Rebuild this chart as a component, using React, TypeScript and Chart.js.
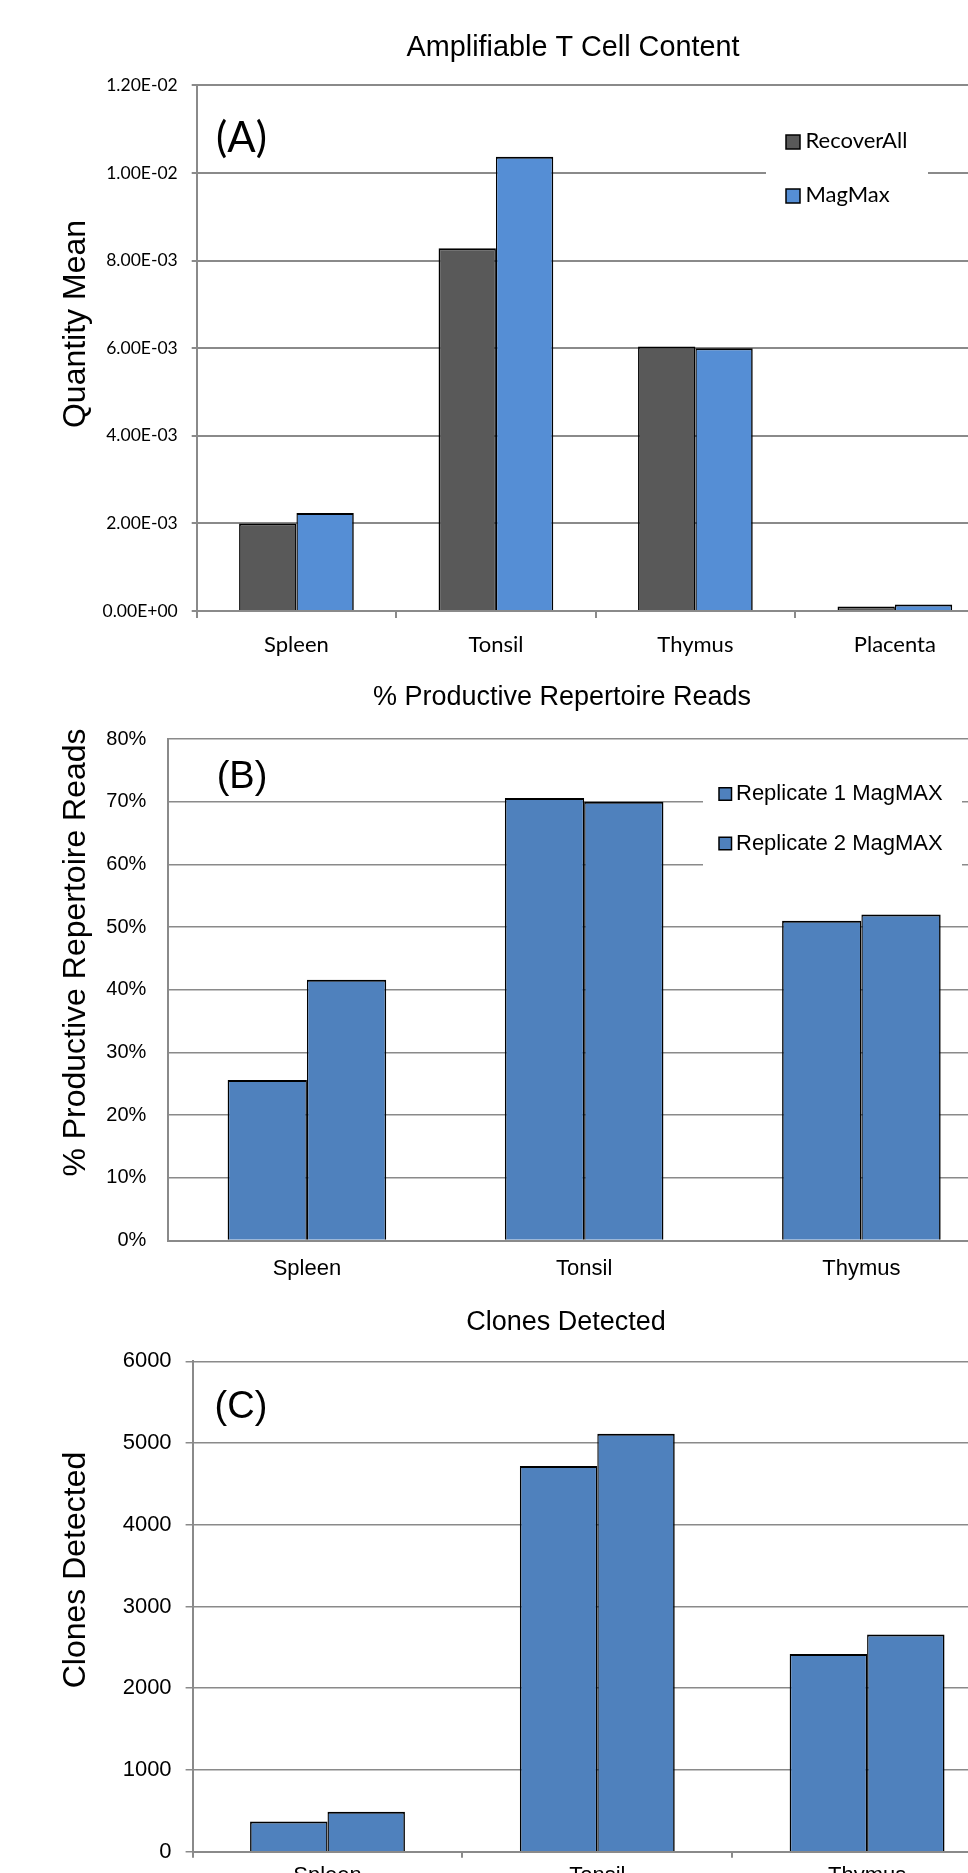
import React, { useEffect, useRef } from 'react';
import { Chart, registerables } from 'chart.js';

Chart.register(...registerables);

// ---------- Data ----------
const A_CATEGORIES = ['Spleen', 'Tonsil', 'Thymus', 'Placenta'];
const A_RECOVERALL = [0.002, 0.00828, 0.00604, 0.0001];
const A_MAGMAX = [0.00224, 0.01037, 0.006, 0.00015];
const A_TICK_VALUES = [0, 0.002, 0.004, 0.006, 0.008, 0.01, 0.012];
const A_TICK_LABELS = ['0.00E+00', '2.00E-03', '4.00E-03', '6.00E-03', '8.00E-03', '1.00E-02', '1.20E-02'];

const B_CATEGORIES = ['Spleen', 'Tonsil', 'Thymus'];
const B_REP1 = [25.6, 70.6, 51.0];
const B_REP2 = [41.6, 70.0, 52.0];
const B_TICK_VALUES = [0, 10, 20, 30, 40, 50, 60, 70, 80];
const B_TICK_LABELS = ['0%', '10%', '20%', '30%', '40%', '50%', '60%', '70%', '80%'];

const C_CATEGORIES = ['Spleen', 'Tonsil', 'Thymus'];
const C_REP1 = [370, 4720, 2420];
const C_REP2 = [488, 5115, 2658];
const C_TICK_VALUES = [0, 1000, 2000, 3000, 4000, 5000, 6000];
const C_TICK_LABELS = ['0', '1000', '2000', '3000', '4000', '5000', '6000'];

// ---------- Styles ----------
const ARIAL = '"Liberation Sans", Arial, sans-serif';
const CALIBRI = 'Lato, "Liberation Sans", sans-serif';
const GRID = '#8a8a8a';
const DARK = '#595959';
const BLUE_A = '#558ed5';
const BLUE = '#4f81bd';
const CANVAS_W = 1010;

const decoPlugin = {
  id: 'panelDeco',
  afterDraw(chart: any, _args: any, opts: any) {
    const ctx = chart.ctx;
    ctx.save();
    ctx.fillStyle = '#000';
    ctx.textAlign = 'center';
    ctx.textBaseline = 'middle';
    if (opts.legend) {
      const L = opts.legend;
      ctx.fillStyle = '#fff';
      ctx.fillRect(L.bgX, L.bgY, L.bgW, L.bgH);
      chart.data.datasets.forEach((ds: any, i: number) => {
        const cy = L.y + i * L.dy;
        ctx.fillStyle = ds.backgroundColor;
        ctx.fillRect(L.x, cy - L.box / 2, L.box, L.box);
        ctx.strokeStyle = '#000';
        ctx.lineWidth = 1.5;
        ctx.strokeRect(L.x, cy - L.box / 2, L.box, L.box);
        ctx.fillStyle = '#000';
        ctx.font = L.font;
        ctx.textAlign = 'left';
        ctx.fillText(ds.label, L.textX, cy + L.textDy);
      });
      ctx.textAlign = 'center';
    }
    if (opts.title) {
      ctx.fillStyle = '#000';
      ctx.font = opts.titleFont;
      ctx.fillText(opts.title, opts.titleX, opts.titleY);
    }
    if (opts.yTitle) {
      ctx.save();
      ctx.translate(opts.yTitleX, opts.yTitleY);
      ctx.rotate(-Math.PI / 2);
      ctx.font = opts.yTitleFont;
      ctx.fillStyle = '#000';
      ctx.fillText(opts.yTitle, 0, 0);
      ctx.restore();
    }
    if (opts.tag) {
      ctx.font = opts.tagFont;
      ctx.fillStyle = '#000';
      ctx.fillText(opts.tag, opts.tagX, opts.tagY);
    }
    ctx.restore();
  },
};

type PanelSpec = {
  top: number;
  height: number;
  categories: string[];
  series: { label: string; data: number[]; color: string }[];
  tickValues: number[];
  tickLabels: string[];
  yMax: number;
  left: number;
  right: number;
  areaTop: number;
  areaBottom: number;
  catPct: number;
  yTickFont: any;
  yTickPad: number;
  yTickLen: number;
  xTickFont: any;
  xTickPad: number;
  xTickLen: number;
  gridWidth: number;
  deco: any;
};

function buildConfig(p: PanelSpec): any {
  return {
    type: 'bar',
    data: {
      labels: p.categories,
      datasets: p.series.map((s, i) => ({
        label: s.label,
        data: s.data,
        backgroundColor: s.color,
        borderColor: '#000',
        borderWidth: i === 0
          ? { top: 2, left: 1.6, right: 1.4, bottom: 0 }
          : { top: 2, left: 1.4, right: 1.6, bottom: 0 },
        barPercentage: 1,
        categoryPercentage: p.catPct,
      })),
    },
    options: {
      responsive: false,
      animation: false,
      devicePixelRatio: 1,
      layout: { padding: { top: p.areaTop, left: 0, right: CANVAS_W - p.right, bottom: 0 } },
      plugins: {
        legend: { display: false },
        title: { display: false },
        tooltip: { enabled: false },
        panelDeco: p.deco,
      },
      scales: {
        x: {
          afterFit: (s: any) => { s.height = p.height - p.areaBottom; },
          ticks: { font: p.xTickFont, color: '#000', padding: p.xTickPad, maxRotation: 0, autoSkip: false },
          grid: {
            display: p.xTickLen > 0,
            drawOnChartArea: false,
            drawTicks: p.xTickLen > 0,
            tickLength: p.xTickLen,
            color: GRID,
            lineWidth: 2,
            offset: true,
          },
          border: { display: true, color: GRID, width: 2 },
        },
        y: {
          min: 0,
          max: p.yMax,
          afterBuildTicks: (s: any) => { s.ticks = p.tickValues.map((v) => ({ value: v })); },
          afterFit: (s: any) => { s.width = p.left; },
          ticks: {
            callback: (_v: any, i: number) => p.tickLabels[i],
            font: p.yTickFont,
            color: '#000',
            padding: p.yTickPad,
          },
          grid: {
            color: GRID,
            lineWidth: p.gridWidth,
            drawTicks: p.yTickLen > 0,
            tickLength: p.yTickLen,
          },
          border: { display: true, color: GRID, width: 2 },
        },
      },
    },
    plugins: [decoPlugin],
  };
}

const PANEL_A: PanelSpec = {
  top: 0,
  height: 660,
  categories: A_CATEGORIES,
  series: [
    { label: 'RecoverAll', data: A_RECOVERALL, color: DARK },
    { label: 'MagMax', data: A_MAGMAX, color: BLUE_A },
  ],
  tickValues: A_TICK_VALUES,
  tickLabels: A_TICK_LABELS,
  yMax: 0.012,
  left: 196.7,
  right: 994.6,
  areaTop: 85.4,
  areaBottom: 611,
  catPct: 0.575,
  yTickFont: { family: CALIBRI, size: 17.5 },
  yTickPad: 14,
  yTickLen: 5,
  xTickFont: { family: CALIBRI, size: 22 },
  xTickPad: 14,
  xTickLen: 7,
  gridWidth: 2,
  deco: {
    title: 'Amplifiable T Cell Content',
    titleFont: `28.8px ${ARIAL}`,
    titleX: 573,
    titleY: 48,
    yTitle: 'Quantity Mean',
    yTitleFont: `32px ${ARIAL}`,
    yTitleX: 76.5,
    yTitleY: 324,
    tag: '(A)',
    tagFont: `42px ${CALIBRI}`,
    tagX: 241.5,
    tagY: 138,
    legend: {
      bgX: 766, bgY: 112, bgW: 162, bgH: 106,
      x: 786, y: 142, dy: 54, box: 14,
      textX: 805.5, textDy: -1.5,
      font: `22px ${CALIBRI}`,
    },
  },
};

const PANEL_B: PanelSpec = {
  top: 660,
  height: 630,
  categories: B_CATEGORIES,
  series: [
    { label: 'Replicate 1 MagMAX', data: B_REP1, color: BLUE },
    { label: 'Replicate 2 MagMAX', data: B_REP2, color: BLUE },
  ],
  tickValues: B_TICK_VALUES,
  tickLabels: B_TICK_LABELS,
  yMax: 80,
  left: 168.3,
  right: 1000,
  areaTop: 79,
  areaBottom: 580.5,
  catPct: 0.572,
  yTickFont: { family: ARIAL, size: 20 },
  yTickPad: 22,
  yTickLen: 0,
  xTickFont: { family: ARIAL, size: 22 },
  xTickPad: 15,
  xTickLen: 0,
  gridWidth: 1.5,
  deco: {
    title: '% Productive Repertoire Reads',
    titleFont: `27px ${ARIAL}`,
    titleX: 562,
    titleY: 37.6,
    yTitle: '% Productive Repertoire Reads',
    yTitleFont: `32px ${ARIAL}`,
    yTitleX: 76.5,
    yTitleY: 292.5,
    tag: '(B)',
    tagFont: `38px ${ARIAL}`,
    tagX: 242,
    tagY: 118,
    legend: {
      bgX: 703, bgY: 110, bgW: 259, bgH: 100,
      x: 719, y: 134, dy: 49.5, box: 12.5,
      textX: 736, textDy: 0,
      font: `22px ${ARIAL}`,
    },
  },
};

const PANEL_C: PanelSpec = {
  top: 1290,
  height: 650,
  categories: C_CATEGORIES,
  series: [
    { label: 'Replicate 1 MagMAX', data: C_REP1, color: BLUE },
    { label: 'Replicate 2 MagMAX', data: C_REP2, color: BLUE },
  ],
  tickValues: C_TICK_VALUES,
  tickLabels: C_TICK_LABELS,
  yMax: 6000,
  left: 192.6,
  right: 1002,
  areaTop: 71.3,
  areaBottom: 561.7,
  catPct: 0.574,
  yTickFont: { family: ARIAL, size: 22 },
  yTickPad: 14,
  yTickLen: 7,
  xTickFont: { family: ARIAL, size: 22 },
  xTickPad: 5,
  xTickLen: 6,
  gridWidth: 1.5,
  deco: {
    title: 'Clones Detected',
    titleFont: `27px ${ARIAL}`,
    titleX: 566,
    titleY: 32.7,
    yTitle: 'Clones Detected',
    yTitleFont: `32px ${ARIAL}`,
    yTitleX: 76.5,
    yTitleY: 280,
    tag: '(C)',
    tagFont: `38px ${ARIAL}`,
    tagX: 241,
    tagY: 118,
  },
};

function Panel({ spec }: { spec: PanelSpec }) {
  const ref = useRef<HTMLCanvasElement | null>(null);
  useEffect(() => {
    if (!ref.current) return;
    const chart = new Chart(ref.current, buildConfig(spec));
    return () => chart.destroy();
  }, [spec]);
  return (
    <canvas
      ref={ref}
      width={CANVAS_W}
      height={spec.height}
      style={{ position: 'absolute', left: 0, top: spec.top, width: CANVAS_W, height: spec.height, display: 'block' }}
    />
  );
}

export default function App() {
  return (
    <div
      style={{
        position: 'absolute',
        left: 0,
        top: 0,
        width: 968,
        height: 1873,
        overflow: 'hidden',
        background: '#fff',
      }}
    >
      <Panel spec={PANEL_A} />
      <Panel spec={PANEL_B} />
      <Panel spec={PANEL_C} />
    </div>
  );
}
